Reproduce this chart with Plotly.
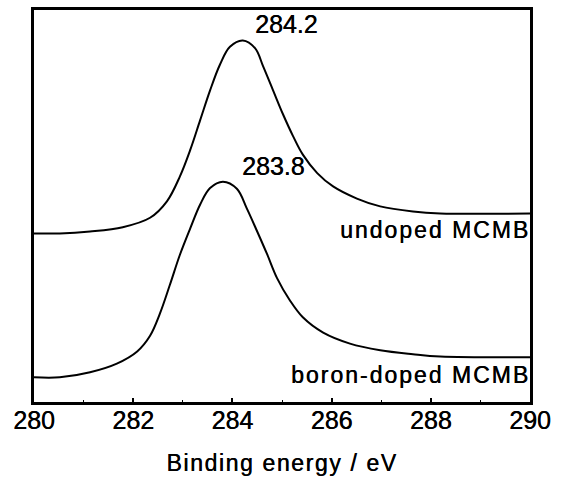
import plotly.graph_objects as go

# Binding energy (eV) and intensity (a.u., offset)
undoped_x = [280.00, 280.52, 281.13, 281.79, 282.34, 282.68, 282.94, 283.15, 283.35, 283.55,
             283.75, 283.95, 284.21, 284.46, 284.62, 284.82, 285.02, 285.22, 285.42, 285.71,
             286.03, 286.51, 286.98, 287.64, 288.19, 290.00]
undoped_y = [43.0, 43.0, 43.5, 44.6, 47.0, 51.2, 57.5, 64.3, 71.9, 79.5,
             86.1, 90.6, 92.2, 90.2, 85.6, 79.5, 73.4, 67.9, 63.1, 58.4,
             55.0, 51.9, 49.9, 48.6, 48.1, 48.1]

boron_x = [280.00, 280.52, 281.13, 281.67, 282.08, 282.34, 282.54, 282.74, 282.94, 283.15,
           283.35, 283.55, 283.81, 284.09, 284.29, 284.50, 284.70, 284.90, 285.16, 285.42,
           285.83, 286.37, 286.98, 287.64, 288.19, 290.00]
boron_y = [6.3, 6.3, 7.6, 9.8, 12.9, 16.9, 22.6, 29.9, 37.5, 44.3,
           50.4, 54.6, 56.2, 54.4, 49.4, 43.5, 37.7, 31.6, 25.9, 21.6,
           17.7, 14.9, 13.2, 12.2, 11.6, 11.4]

peak_labels = ["284.2", "283.8"]
peak_label_x = [285.10, 284.82]
peak_label_y = [96.5, 60.3]
series_names = ["undoped MCMB", "boron-doped MCMB"]
series_label_y = [43.8, 6.8]
x_ticks = [280, 282, 284, 286, 288, 290]

FONT = "Liberation Sans, Arial, sans-serif"
SHADOW = "0.4px 0px 0px black"


def spaced(t, px):
    return '<span style="letter-spacing:%spx">%s</span>' % (px, t)


fig = go.Figure()
for xs, ys, name in [(undoped_x, undoped_y, series_names[0]), (boron_x, boron_y, series_names[1])]:
    fig.add_trace(go.Scatter(x=xs, y=ys, mode="lines", name=name,
                             line=dict(color="black", width=2, shape="spline", smoothing=1.0),
                             showlegend=False, hoverinfo="skip"))

for t, x, y in zip(peak_labels, peak_label_x, peak_label_y):
    fig.add_annotation(x=x, y=y, text=t, showarrow=False,
                       font=dict(family=FONT, size=25, color="black", shadow=SHADOW),
                       xanchor="center", yanchor="middle")

for t, y in zip(series_names, series_label_y):
    fig.add_annotation(x=290, y=y, text=spaced(t, 2), showarrow=False,
                       font=dict(family=FONT, size=23, color="black", shadow=SHADOW),
                       xanchor="right", yanchor="middle", xshift=2)

fig.update_layout(
    width=563, height=482,
    margin=dict(l=34, r=33, t=7, b=80),
    paper_bgcolor="white", plot_bgcolor="white",
    font=dict(family=FONT, color="black"),
    xaxis=dict(range=[280, 290], tickvals=x_ticks, ticktext=[str(v) for v in x_ticks],
               ticks="inside", ticklen=4, tickwidth=1.5, tickcolor="black",
               minor=dict(ticks="inside", ticklen=2, tickwidth=1, dtick=1, tickcolor="black"),
               showline=True, linecolor="black", linewidth=3, mirror=True,
               showgrid=False, zeroline=False, ticklabelstandoff=-6,
               tickfont=dict(family=FONT, size=25, color="black", shadow=SHADOW),
               title=dict(text=spaced("Binding energy / eV", 1.6),
                          font=dict(family=FONT, size=23, color="black", shadow=SHADOW),
                          standoff=22)),
    yaxis=dict(range=[0, 100], showticklabels=False, ticks="",
               showline=True, linecolor="black", linewidth=3, mirror=True,
               showgrid=False, zeroline=False),
)

fig.write_html("out.html")
